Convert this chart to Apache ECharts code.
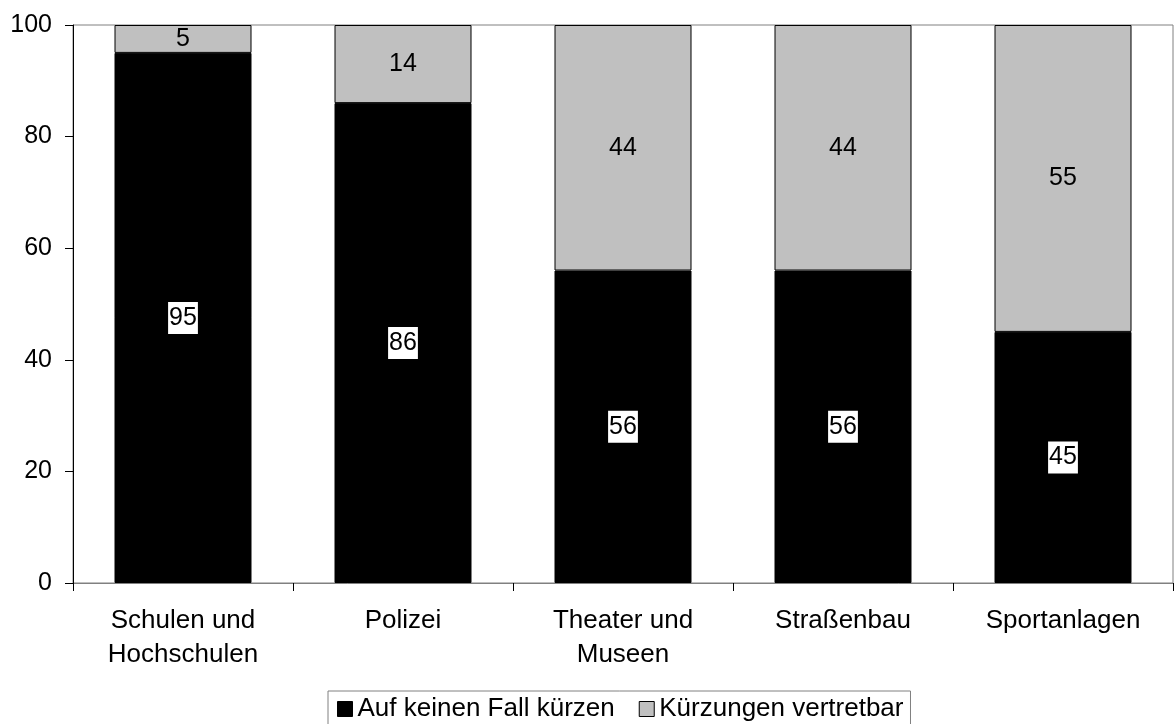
<!DOCTYPE html>
<html>
<head>
<meta charset="utf-8">
<script src="https://cdn.jsdelivr.net/npm/echarts@6/dist/echarts.min.js"></script>
<style>
  html, body { margin: 0; padding: 0; background: #fff; }
  #chart { width: 1175px; height: 724px; }
</style>
</head>
<body>
<div id="chart"></div>
<script>
var categories = ['Schulen und\nHochschulen', 'Polizei', 'Theater und\nMuseen', 'Straßenbau', 'Sportanlagen']
var keinFall = [95, 86, 56, 56, 45]
var vertretbar = [5, 14, 44, 44, 55]
var seriesNames = ['Auf keinen Fall kürzen', 'Kürzungen vertretbar']

var chart = echarts.init(document.getElementById('chart'))
var font = 'Liberation Sans, Arial, sans-serif'

chart.setOption({
  animation: false,
  textStyle: { fontFamily: font },
  grid: {
    left: 73,
    right: 2,
    top: 25,
    bottom: 141,
    show: true,
    borderColor: '#808080',
    borderWidth: 1
  },
  legend: {
    data: [
      { name: seriesNames[0], itemStyle: { color: '#000', borderColor: '#000', borderWidth: 1 } },
      { name: seriesNames[1], itemStyle: { color: '#C0C0C0', borderColor: '#000', borderWidth: 1 } }
    ],
    icon: 'rect',
    top: 691,
    left: 328,
    itemWidth: 15,
    itemHeight: 15,
    itemGap: 24,
    padding: [5, 7, 6, 9],
    borderColor: '#808080',
    borderWidth: 1,
    textStyle: { fontSize: 26, lineHeight: 26, color: '#000', fontFamily: font }
  },
  xAxis: {
    type: 'category',
    data: categories,
    axisLine: { lineStyle: { color: '#808080' } },
    axisTick: { show: true, inside: false, length: 8, lineStyle: { color: '#000' } },
    axisLabel: {
      color: '#000',
      fontSize: 26,
      lineHeight: 34,
      margin: 21,
      fontFamily: font
    }
  },
  yAxis: {
    type: 'value',
    min: 0,
    max: 100,
    interval: 20,
    axisLine: { show: true, lineStyle: { color: '#000' } },
    axisTick: { show: true, length: 8, lineStyle: { color: '#000' } },
    splitLine: { show: false },
    axisLabel: { color: '#000', fontSize: 25, margin: 21, fontFamily: font }
  },
  series: [
    {
      name: seriesNames[0],
      type: 'bar',
      stack: 'total',
      data: keinFall,
      barWidth: 137,
      itemStyle: { color: '#000', borderColor: '#000', borderWidth: 1 },
      label: {
        show: true,
        position: 'inside',
        color: '#000',
        fontSize: 25,
        backgroundColor: '#fff',
        padding: [4, 1, 3, 1],
        fontFamily: font
      }
    },
    {
      name: seriesNames[1],
      type: 'bar',
      stack: 'total',
      data: vertretbar,
      barWidth: 137,
      itemStyle: { color: '#C0C0C0', borderColor: '#000', borderWidth: 1 },
      label: {
        show: true,
        position: 'inside',
        color: '#000',
        fontSize: 25,
        fontFamily: font
      }
    }
  ]
})
</script>
</body>
</html>
